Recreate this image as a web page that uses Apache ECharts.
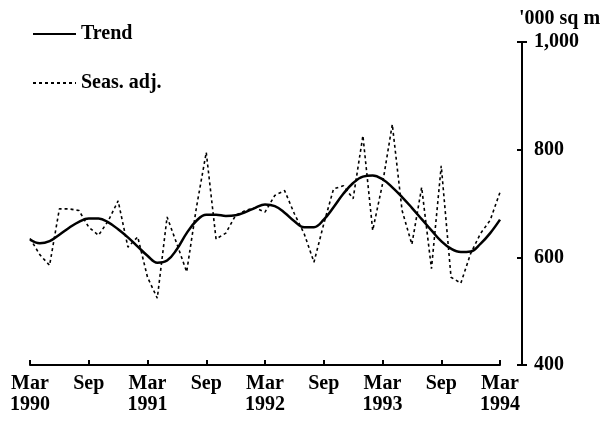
<!DOCTYPE html>
<html>
<head>
<meta charset="utf-8">
<script src="https://cdn.jsdelivr.net/npm/echarts@6/dist/echarts.min.js"></script>
<style>html,body{margin:0;padding:0;background:#fff;}#c{width:611px;height:424px;}</style>
</head>
<body>
<div id="c"></div>
<script>
// Monthly categories Mar 1990 .. Mar 1994
const months = ['Mar','Apr','May','Jun','Jul','Aug','Sep','Oct','Nov','Dec','Jan','Feb'];
const categories = [];
for (let i = 0; i < 49; i++) {
  const y = 1990 + Math.floor((i + 2) / 12);
  categories.push(months[i % 12] + ' ' + y);
}
const tickLabels = ['Mar\n1990','Sep','Mar\n1991','Sep','Mar\n1992','Sep','Mar\n1993','Sep','Mar\n1994'];
const trend = [633,626,630,642,655,666,672,672,665,652,637,620,603,590,594,615,645,668,679,679,677,678,684,692,698,695,683,667,656,656,670,693,718,738,750,752,745,730,712,692,671,650,630,616,610,611,625,645,670];
const seasAdj = [635,605,585,690,690,687,656,641,668,705,619,638,563,524,675,625,573,693,795,634,645,678,687,692,684,715,724,681,644,591,662,727,733,709,826,650,736,847,687,624,730,579,770,563,552,607,644,669,721];
const yTicks = [400,600,800,1000];

const font = 'Liberation Serif';
const txt = {fontFamily: font, fontWeight: 'bold', fontSize: 20, color: '#000'};
const chart = echarts.init(document.getElementById('c'));
chart.setOption({
  backgroundColor: '#fff',
  animation: false,
  grid: {left: 30, right: 111, top: 42, bottom: 59},
  legend: {
    orient: 'vertical', left: 27, top: 19, itemWidth: 43, itemHeight: 14, itemGap: 29,
    itemStyle: {opacity: 0},
    textStyle: txt,
    data: ['Trend', 'Seas. adj.']
  },
  xAxis: {
    type: 'category', data: categories, boundaryGap: false,
    axisLine: {lineStyle: {color: '#000', width: 2}},
    axisTick: {inside: true, length: 5, interval: 5, lineStyle: {color: '#000', width: 2}},
    axisLabel: Object.assign({
      interval: 0, margin: 8, lineHeight: 21,
      formatter: (v, idx) => idx % 6 === 0 ? tickLabels[idx / 6] : ''
    }, txt),
    splitLine: {show: false}
  },
  yAxis: [{
    type: 'value', position: 'right', offset: 22, min: yTicks[0], max: yTicks[yTicks.length - 1], interval: 200,
    name: "'000 sq m", nameLocation: 'end', nameGap: 13,
    nameTextStyle: Object.assign({align: 'left', padding: [0, 0, 0, -3]}, txt),
    axisLine: {show: true, lineStyle: {color: '#000', width: 2}},
    axisTick: {show: true, inside: true, length: 5, lineStyle: {color: '#000', width: 2}},
    axisLabel: Object.assign({margin: 12, formatter: v => v.toLocaleString('en-US')}, txt),
    splitLine: {show: false}
  }, {
    type: 'value', position: 'right', offset: 22, min: yTicks[0], max: yTicks[yTicks.length - 1], interval: 600,
    axisLine: {show: false},
    axisTick: {show: true, length: 5, lineStyle: {color: '#000', width: 2}},
    axisLabel: {show: false},
    splitLine: {show: false}
  }],
  series: [
    {name: 'Trend', type: 'line', data: trend, smooth: 0.4, symbol: 'none',
     lineStyle: {color: '#000', width: 2.5}, itemStyle: {color: '#000'}},
    {name: 'Seas. adj.', type: 'line', data: seasAdj, smooth: false, symbol: 'none',
     lineStyle: {color: '#000', width: 1.6, type: [3, 3]}, itemStyle: {color: '#000'}}
  ]
});
</script>
</body>
</html>
